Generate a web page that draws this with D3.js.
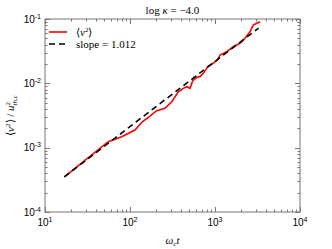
<!DOCTYPE html>
<html>
<head>
<meta charset="utf-8">
<script src="https://cdn.jsdelivr.net/npm/d3@7"></script>
<style>
  body { margin: 0; background: #fff; }
  svg text { fill: #000; }
</style>
</head>
<body>
<div id="chart"></div>
<script>
// data
var tVals = [16.9, 55.6, 79.8, 114.5, 139.6, 171.8, 206, 258, 310, 370, 424, 465, 508, 547, 610, 667, 729, 834, 955, 1064, 1146, 1373, 1642, 1967, 2253, 2581, 2824, 3096, 3384];
var vVals = [3.52e-4, 1.24e-3, 1.48e-3, 1.88e-3, 2.53e-3, 3.10e-3, 3.75e-3, 4.09e-3, 5.18e-3, 7.40e-3, 8.36e-3, 8.85e-3, 8.36e-3, 1.10e-2, 1.24e-2, 1.27e-2, 1.43e-2, 1.86e-2, 2.05e-2, 2.30e-2, 2.75e-2, 3.10e-2, 3.71e-2, 4.19e-2, 5.01e-2, 6.34e-2, 8.07e-2, 8.57e-2, 9.08e-2];
var fitT = [16.9, 3250];
var fitSlope = 1.012;
var fitStart = 3.52e-4;
var xTickExp = [1, 2, 3, 4];
var yTickExp = [-1, -2, -3, -4];

var W = 332, H = 249;
var m = {left: 45, right: 32, top: 19, bottom: 37};
var pw = W - m.left - m.right, ph = H - m.top - m.bottom;

var svg = d3.select("#chart").append("svg")
  .attr("width", W).attr("height", H);

var x = d3.scaleLog().domain([10, 1e4]).range([m.left, m.left + pw]);
var y = d3.scaleLog().domain([1e-4, 1e-1]).range([m.top + ph, m.top]);

// minor tick values
var xMinor = [], yMinor = [];
for (var e = 1; e < 4; e++) for (var k = 2; k < 10; k++) xMinor.push(k * Math.pow(10, e));
for (var e = -4; e < -1; e++) for (var k = 2; k < 10; k++) yMinor.push(k * Math.pow(10, e));
var xMajor = xTickExp.map(function(d) { return Math.pow(10, d); });
var yMajor = yTickExp.map(function(d) { return Math.pow(10, d); });

var axCol = "#777";
var g = svg.append("g");

// frame
g.append("rect")
  .attr("x", m.left).attr("y", m.top).attr("width", pw).attr("height", ph)
  .attr("fill", "none").attr("stroke", axCol).attr("stroke-width", 1);

// ticks (inward) on all four sides
function xt(vals, len) {
  vals.forEach(function(v) {
    var px = Math.round(x(v)) + 0.5;
    g.append("line").attr("x1", px).attr("x2", px)
      .attr("y1", m.top + ph).attr("y2", m.top + ph - len).attr("stroke", axCol);
    g.append("line").attr("x1", px).attr("x2", px)
      .attr("y1", m.top).attr("y2", m.top + len).attr("stroke", axCol);
  });
}
function yt(vals, len) {
  vals.forEach(function(v) {
    var py = Math.round(y(v)) + 0.5;
    g.append("line").attr("y1", py).attr("y2", py)
      .attr("x1", m.left).attr("x2", m.left + len).attr("stroke", axCol);
    g.append("line").attr("y1", py).attr("y2", py)
      .attr("x1", m.left + pw).attr("x2", m.left + pw - len).attr("stroke", axCol);
  });
}
xt(xMajor, 5); xt(xMinor, 2.5);
yt(yMajor, 5); yt(yMinor, 2.5);

// tick labels
var tickFont = "'Liberation Sans', Arial, sans-serif";
xTickExp.forEach(function(e) {
  var t = svg.append("text")
    .attr("x", x(Math.pow(10, e))).attr("y", 226)
    .attr("text-anchor", "middle")
    .style("font-family", tickFont).style("font-size", "10px");
  t.append("tspan").text("10");
  t.append("tspan").attr("dy", -4).style("font-size", "7px").text(e);
});
yTickExp.forEach(function(e) {
  var t = svg.append("text")
    .attr("x", 41).attr("y", y(Math.pow(10, e)) + 3.5)
    .attr("text-anchor", "end")
    .style("font-family", tickFont).style("font-size", "10px");
  t.append("tspan").text("10");
  t.append("tspan").attr("dy", -4).style("font-size", "7px").text(e);
});

// curves
var clip = svg.append("clipPath").attr("id", "clip").append("rect")
  .attr("x", m.left).attr("y", m.top).attr("width", pw).attr("height", ph);

var line = d3.line().x(function(d) { return x(d[0]); }).y(function(d) { return y(d[1]); });
var curve = tVals.map(function(t, i) { return [t, vVals[i]]; });
var fit = fitT.map(function(t) { return [t, fitStart * Math.pow(t / fitT[0], fitSlope)]; });

svg.append("path").datum(curve)
  .attr("d", line).attr("fill", "none")
  .attr("stroke", "#ff0000").attr("stroke-width", 1.6)
  .attr("clip-path", "url(#clip)");
svg.append("path").datum(fit)
  .attr("d", line).attr("fill", "none")
  .attr("stroke", "#000").attr("stroke-width", 1.6)
  .attr("stroke-dasharray", "6,4")
  .attr("clip-path", "url(#clip)");

// legend
var serif = "'Liberation Serif', 'Times New Roman', serif";
svg.append("line").attr("x1", 49).attr("x2", 67).attr("y1", 32).attr("y2", 32)
  .attr("stroke", "#ff0000").attr("stroke-width", 1.6);
svg.append("line").attr("x1", 49).attr("x2", 67).attr("y1", 44).attr("y2", 44)
  .attr("stroke", "#000").attr("stroke-width", 1.6).attr("stroke-dasharray", "6,4");
var l1 = svg.append("text").attr("x", 76).attr("y", 36)
  .style("font-family", serif).style("font-size", "11px");
l1.append("tspan").text("\u27E8");
l1.append("tspan").style("font-style", "italic").text("v");
l1.append("tspan").attr("dy", -4).style("font-size", "7px").text("2");
l1.append("tspan").attr("dy", 4).text("\u27E9");
svg.append("text").attr("x", 76).attr("y", 48)
  .style("font-family", serif).style("font-size", "11px")
  .text("slope = 1.012");

// title
var ti = svg.append("text").attr("x", m.left + pw / 2).attr("y", 14)
  .attr("text-anchor", "middle")
  .style("font-family", serif).style("font-size", "11px");
ti.append("tspan").text("log ");
ti.append("tspan").style("font-style", "italic").text("\u03BA");
ti.append("tspan").text(" = \u22124.0");

// x label
var xl = svg.append("text").attr("x", m.left + pw / 2).attr("y", 244)
  .attr("text-anchor", "middle")
  .style("font-family", serif).style("font-size", "11px").style("font-style", "italic");
xl.append("tspan").text("\u03C9");
xl.append("tspan").attr("dy", 2).style("font-size", "7px").text("c");
xl.append("tspan").attr("dy", -2).text("t");

// y label
var yl = svg.append("text")
  .attr("transform", "translate(14," + (m.top + ph / 2) + ") rotate(-90)")
  .attr("text-anchor", "middle")
  .style("font-family", serif).style("font-size", "11px");
yl.append("tspan").text("\u27E8");
yl.append("tspan").style("font-style", "italic").text("v");
yl.append("tspan").attr("dy", -4).style("font-size", "7px").text("2");
yl.append("tspan").attr("dy", 4).text("\u27E9 / ");
yl.append("tspan").style("font-style", "italic").text("u");
yl.append("tspan").attr("dy", -4).style("font-size", "7px").text("2");
yl.append("tspan").attr("dx", -3.5).attr("dy", 7).style("font-size", "7px").style("font-style", "italic").text("th,c");
</script>
</body>
</html>
